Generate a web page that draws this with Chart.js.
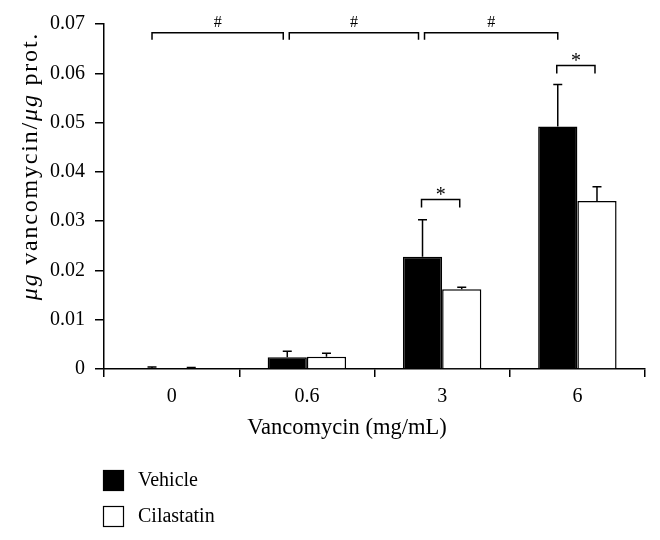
<!DOCTYPE html>
<html>
<head>
<meta charset="utf-8">
<script src="https://cdn.jsdelivr.net/npm/chart.js@4/dist/chart.umd.min.js"></script>
<style>
    html, body { margin: 0; padding: 0; background: #fff; }
    #wrap { width: 660px; height: 540px; position: relative; }
</style>
</head>
<body>
<div id="wrap"><canvas id="vancoChart" width="660" height="540"></canvas></div>
<script>
const categories = ['0', '0.6', '3', '6'];
const vehicleValues = [0.0002, 0.0024, 0.0228, 0.0492];
const vehicleErrors = [0.0002, 0.0012, 0.0075, 0.0085];
const cilastatinValues = [0.0002, 0.0025, 0.0162, 0.0341];
const cilastatinErrors = [0.0001, 0.0007, 0.0004, 0.0029];
const yTicks = [0, 0.01, 0.02, 0.03, 0.04, 0.05, 0.06, 0.07];

// between-dose comparisons (vehicle bars) and within-dose comparisons
const hashFrom = [0, 1, 2];
const hashTo = [1, 2, 3];
const hashLevel = 0.0682;
const starCategory = [2, 3];
const starLevel = [0.0344, 0.0616];

const serif = '"Liberation Serif", "DejaVu Serif", serif';
const errorsByDataset = [vehicleErrors, cilastatinErrors];

function fmtTick(v) {
    if (v === 0) return '0';
    return v.toFixed(2);
}

const errorBarPlugin = {
    id: 'errorBars',
    afterDatasetsDraw(chart) {
        const ctx = chart.ctx;
        const y = chart.scales.y;
        ctx.save();
        ctx.strokeStyle = '#000';
        ctx.lineWidth = 1.5;
        chart.data.datasets.forEach((ds, di) => {
            const meta = chart.getDatasetMeta(di);
            meta.data.forEach((bar, i) => {
                const top = y.getPixelForValue(ds.data[i] + errorsByDataset[di][i]);
                const base = y.getPixelForValue(ds.data[i]);
                ctx.beginPath();
                ctx.moveTo(bar.x, base);
                ctx.lineTo(bar.x, top);
                ctx.moveTo(bar.x - 4.5, top);
                ctx.lineTo(bar.x + 4.5, top);
                ctx.stroke();
            });
        });
        ctx.restore();
    }
};

function drawBracket(ctx, x1, x2, yTop, drop, label, labelFont, labelOffset) {
    ctx.beginPath();
    ctx.moveTo(x1, yTop + drop);
    ctx.lineTo(x1, yTop);
    ctx.lineTo(x2, yTop);
    ctx.lineTo(x2, yTop + drop);
    ctx.stroke();
    ctx.font = labelFont;
    ctx.textAlign = 'center';
    ctx.textBaseline = 'middle';
    ctx.fillText(label, (x1 + x2) / 2, yTop - labelOffset);
}

const bracketPlugin = {
    id: 'brackets',
    afterDraw(chart) {
        const ctx = chart.ctx;
        const y = chart.scales.y;
        const vehMeta = chart.getDatasetMeta(0);
        const cilMeta = chart.getDatasetMeta(1);
        ctx.save();
        ctx.strokeStyle = '#000';
        ctx.fillStyle = '#000';
        ctx.lineWidth = 1.5;
        const hy = y.getPixelForValue(hashLevel);
        hashFrom.forEach((from, k) => {
            const x1 = vehMeta.data[from].x + (k > 0 ? 2 : 0);
            const x2 = vehMeta.data[hashTo[k]].x - (k < hashFrom.length - 1 ? 4 : 0);
            drawBracket(ctx, x1, x2, hy, 7, '#', '16px ' + serif, 10);
        });
        starCategory.forEach((c, k) => {
            const sy = y.getPixelForValue(starLevel[k]);
            drawBracket(ctx, vehMeta.data[c].x - 1, cilMeta.data[c].x - 2, sy, 8, '*', '20px ' + serif, 4);
        });

        // y axis title, with italic units
        const parts = [['italic', 'μg'], ['normal', ' vancomycin/'], ['italic', 'μg'], ['normal', ' prot.']];
        ctx.letterSpacing = '1.8px';
        let total = 0;
        parts.forEach(p => {
            ctx.font = p[0] + ' 24px ' + serif;
            total += ctx.measureText(p[1]).width;
        });
        ctx.translate(31, 166);
        ctx.rotate(-Math.PI / 2);
        ctx.textAlign = 'left';
        ctx.textBaseline = 'middle';
        let cx = -total / 2;
        parts.forEach(p => {
            ctx.font = p[0] + ' 24px ' + serif;
            ctx.fillText(p[1], cx, 0);
            cx += ctx.measureText(p[1]).width;
        });
        ctx.restore();

        // x axis title, a little left of the plot centre as in the figure
        ctx.save();
        ctx.fillStyle = '#000';
        ctx.font = '22.5px ' + serif;
        ctx.textAlign = 'center';
        ctx.textBaseline = 'middle';
        ctx.fillText('Vancomycin (mg/mL)', 347, 428);
        ctx.restore();

        // legend, stacked under the axis title
        ctx.save();
        ctx.lineWidth = 1.2;
        ctx.strokeStyle = '#000';
        ctx.font = '20px ' + serif;
        ctx.textAlign = 'left';
        ctx.textBaseline = 'middle';
        chart.data.datasets.forEach((ds, i) => {
            const top = 470 + i * 36;
            ctx.fillStyle = ds.backgroundColor;
            ctx.fillRect(103, top, 21, 21);
            ctx.strokeRect(103.5, top + 0.5, 20, 20);
            ctx.fillStyle = '#000';
            ctx.fillText(ds.label, 138, top + 11);
        });
        ctx.restore();
    }
};

const ctx = document.getElementById('vancoChart').getContext('2d');
new Chart(ctx, {
    type: 'bar',
    data: {
        labels: categories,
        datasets: [{
            label: 'Vehicle',
            data: vehicleValues,
            backgroundColor: '#000',
            borderColor: '#000',
            borderWidth: 1.5
        }, {
            label: 'Cilastatin',
            data: cilastatinValues,
            backgroundColor: '#fff',
            borderColor: '#000',
            borderWidth: 1.5
        }]
    },
    options: {
        responsive: false,
        animation: false,
        devicePixelRatio: 1,
        categoryPercentage: 0.58,
        barPercentage: 1,
        layout: {
            padding: { top: 24, right: 15, bottom: 93, left: 0 }
        },
        scales: {
            x: {
                grid: {
                    offset: true,
                    drawOnChartArea: false,
                    tickLength: 8,
                    color: '#000',
                    lineWidth: 1.5
                },
                border: { color: '#000', width: 1.5 },
                ticks: {
                    color: '#000',
                    padding: 8,
                    font: { family: serif, size: 20 }
                },
                afterFit(scale) {
                    scale.height = 78;
                }
            },
            y: {
                min: 0,
                max: 0.07,
                afterBuildTicks(scale) {
                    scale.ticks = yTicks.map(v => ({ value: v }));
                },
                grid: {
                    drawOnChartArea: false,
                    tickLength: 9,
                    color: '#000',
                    lineWidth: 1.5
                },
                border: { color: '#000', width: 1.5 },
                ticks: {
                    color: '#000',
                    padding: 10,
                    font: { family: serif, size: 20 },
                    callback: fmtTick
                },
                afterFit(scale) {
                    scale.width = 104;
                }
            }
        },
        plugins: {
            legend: { display: false },
            tooltip: { enabled: false }
        }
    },
    plugins: [errorBarPlugin, bracketPlugin]
});
</script>
</body>
</html>
